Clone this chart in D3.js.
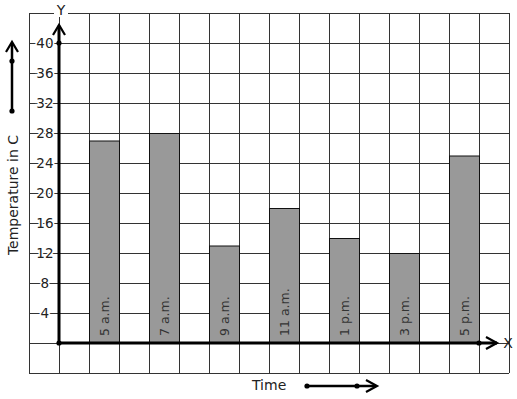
<!DOCTYPE html>
<html><head><meta charset="utf-8">
<script src="https://cdn.jsdelivr.net/npm/d3@7"></script>
<style>body{margin:0;background:#fff}svg{display:block}text{font-family:"DejaVu Sans",sans-serif}</style>
</head><body>
<svg id="c" width="517" height="399"></svg>
<script>
const categories = ["5 a.m.","7 a.m.","9 a.m.","11 a.m.","1 p.m.","3 p.m.","5 p.m."];
const temperatures = [27, 28, 13, 18, 14, 12, 25];
const yTicks = [4, 8, 12, 16, 20, 24, 28, 32, 36, 40];

const svg = d3.select("#c");
const x = d3.scaleLinear().domain([-1, 15]).range([29, 509]);
const y = d3.scaleLinear().domain([-4, 44]).range([373, 13]);
const ink = "#222";

// grid
const g = svg.append("g").attr("stroke", "#333").attr("stroke-width", 1).attr("shape-rendering","crispEdges");
d3.range(-1, 16).forEach(v => g.append("line").attr("x1", x(v)+0.5).attr("x2", x(v)+0.5).attr("y1", y(44)).attr("y2", y(-4)));
d3.range(-4, 45, 4).forEach(v => g.append("line").attr("y1", y(v)+0.5).attr("y2", y(v)+0.5).attr("x1", x(-1)).attr("x2", x(15)));

// bars
const bars = svg.append("g");
categories.forEach((c, i) => {
  const x0 = x(2*i+1), x1 = x(2*i+2);
  bars.append("rect").attr("x", x0+0.5).attr("y", y(temperatures[i])+0.5)
    .attr("width", x1-x0).attr("height", y(0)-y(temperatures[i]))
    .attr("fill", "#999").attr("stroke", "#111").attr("stroke-width", 1);
  bars.append("text").text(c)
    .attr("transform", `translate(${(x0+x1)/2+5},${y(0)-7}) rotate(-90)`)
    .attr("font-size", 12.5).attr("fill", "#333");
});

// tick labels with white halo
svg.append("g").selectAll("text").data(yTicks).join("text")
  .attr("x", x(-0.47)).attr("y", d => y(d)+5).attr("text-anchor", "middle")
  .attr("font-size", 13.5).attr("fill", ink)
  .attr("stroke", "#fff").attr("stroke-width", 3).attr("paint-order", "stroke")
  .text(d => d);

// axes
function arrowHead(sel, tx, ty, dir) {
  // dir: 'up' or 'right'
  const p = dir === "up"
    ? `M${tx-6},${ty+10} L${tx},${ty} L${tx+6},${ty+10}`
    : `M${tx-11},${ty-6} L${tx},${ty} L${tx-11},${ty+6}`;
  sel.append("path").attr("d", p).attr("fill", "none").attr("stroke", "#000").attr("stroke-width", 2.2);
}
const ax = svg.append("g");
ax.append("line").attr("x1", x(0)).attr("x2", x(0)).attr("y1", y(0)).attr("y2", y(42.3)).attr("stroke","#000").attr("stroke-width",3);
arrowHead(ax, x(0), y(42.4), "up");
ax.append("line").attr("x1", x(0)).attr("x2", x(14.6)).attr("y1", y(0)).attr("y2", y(0)).attr("stroke","#000").attr("stroke-width",3);
arrowHead(ax, x(14.6), y(0), "right");
[[x(0), y(0)], [x(0), y(40)], [x(14), y(0)]].forEach(([cx, cy]) =>
  ax.append("circle").attr("cx", cx).attr("cy", cy).attr("r", 2.6).attr("fill", "#000"));

// axis letters
svg.append("rect").attr("x", x(0)-5).attr("y", 3).attr("width", 14).attr("height", 14).attr("fill", "#fff");
svg.append("text").text("Y").attr("x", x(0)+2).attr("y", 15).attr("text-anchor","middle").attr("font-size", 14).attr("fill", ink);
svg.append("text").text("X").attr("x", x(14.6)+11).attr("y", y(0)+5).attr("text-anchor","middle").attr("font-size", 14).attr("fill", ink);

// axis titles
svg.append("text").text("Temperature in C")
  .attr("transform", `translate(18,${y(20)+2}) rotate(-90)`).attr("text-anchor","middle")
  .attr("font-size", 14).attr("fill", ink);
svg.append("text").text("Time").attr("x", 252).attr("y", 390).attr("font-size", 14).attr("fill", ink);

// direction arrows
const da = svg.append("g");
da.append("line").attr("x1", 12).attr("x2", 12).attr("y1", 111).attr("y2", 43).attr("stroke","#000").attr("stroke-width",2.5);
arrowHead(da, 12, 42, "up");
[[12,111],[12,61]].forEach(([cx,cy]) => da.append("circle").attr("cx",cx).attr("cy",cy).attr("r",2.6).attr("fill","#000"));
da.append("line").attr("x1", 307).attr("x2", 376).attr("y1", 386).attr("y2", 386).attr("stroke","#000").attr("stroke-width",2.5);
arrowHead(da, 377, 386, "right");
[[307,386],[357,386]].forEach(([cx,cy]) => da.append("circle").attr("cx",cx).attr("cy",cy).attr("r",2.6).attr("fill","#000"));
</script>
</body></html>
